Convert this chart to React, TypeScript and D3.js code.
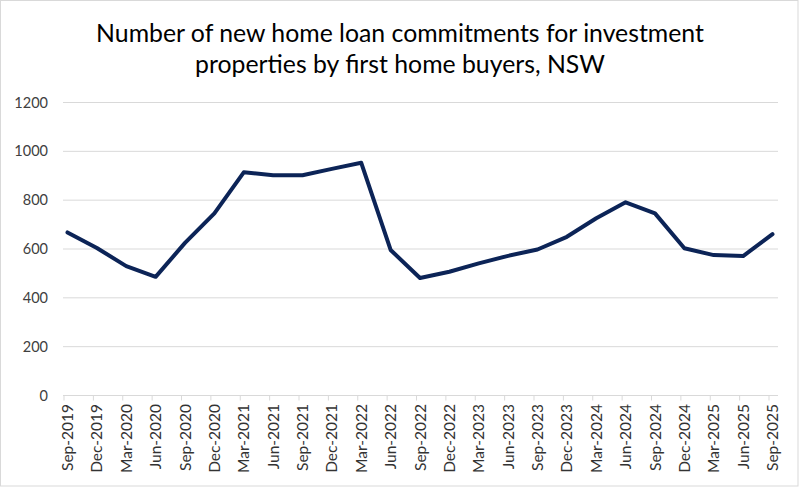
import { useEffect, useRef } from 'react';
import * as d3 from 'd3';

const quarters = [
  'Sep-2019', 'Dec-2019', 'Mar-2020', 'Jun-2020', 'Sep-2020', 'Dec-2020',
  'Mar-2021', 'Jun-2021', 'Sep-2021', 'Dec-2021', 'Mar-2022', 'Jun-2022',
  'Sep-2022', 'Dec-2022', 'Mar-2023', 'Jun-2023', 'Sep-2023', 'Dec-2023',
  'Mar-2024', 'Jun-2024', 'Sep-2024', 'Dec-2024', 'Mar-2025', 'Jun-2025',
  'Sep-2025'
];

const commitments = [
  668, 604, 530, 486, 625, 746,
  914, 902, 902, 928, 953, 596,
  481, 507, 541, 572, 598, 650,
  726, 791, 746, 603, 575, 571,
  661
];

const yTicks = [0, 200, 400, 600, 800, 1000, 1200];

const titleLines = [
  'Number of new home loan commitments for investment',
  'properties by first home buyers, NSW'
];

export default function App() {
  const svgRef = useRef<SVGSVGElement | null>(null);

  useEffect(() => {
    if (!svgRef.current) return;
    const svg = d3.select(svgRef.current);
    svg.selectAll('*').remove();

    const width = 800;
    const height = 487;
    const font = 'Lato, "Open Sans", sans-serif';
    const plot = { left: 63, right: 778, top: 102.5, bottom: 395.5 };

    // chart area border
    svg.append('rect')
      .attr('x', 0.5).attr('y', 0.5)
      .attr('width', width - 2.5).attr('height', height - 1.5)
      .attr('fill', '#fff')
      .attr('stroke', '#d9d9d9');

    const x = d3.scalePoint<string>()
      .domain(quarters)
      .range([67.5, 772.5]);

    const y = d3.scaleLinear()
      .domain([0, 1200])
      .range([plot.bottom, plot.top]);

    // gridlines
    svg.append('g')
      .selectAll('line')
      .data(yTicks.slice(1))
      .join('line')
      .attr('x1', plot.left).attr('x2', plot.right)
      .attr('y1', (d) => y(d)).attr('y2', (d) => y(d))
      .attr('stroke', '#d9d9d9')
      .attr('stroke-width', 1);

    // y labels
    svg.append('g')
      .selectAll('text')
      .data(yTicks)
      .join('text')
      .attr('x', 48)
      .attr('y', (d) => y(d) + 5)
      .attr('text-anchor', 'end')
      .attr('font-family', font)
      .attr('font-size', '14.5px')
      .attr('fill', '#404040')
      .text((d) => d);

    // x axis line + ticks (ticks sit a little left of the points in the original)
    const xAxisG = svg.append('g');
    xAxisG.append('line')
      .attr('x1', plot.left).attr('x2', plot.right)
      .attr('y1', plot.bottom).attr('y2', plot.bottom)
      .attr('stroke', '#d9d9d9');
    xAxisG.selectAll('line.tick')
      .data(quarters)
      .join('line')
      .classed('tick', true)
      .attr('x1', (d) => (x(d) ?? 0) - 3.5).attr('x2', (d) => (x(d) ?? 0) - 3.5)
      .attr('y1', plot.bottom).attr('y2', plot.bottom + 5)
      .attr('stroke', '#d9d9d9');

    xAxisG.selectAll('text')
      .data(quarters)
      .join('text')
      .attr('transform', (d) => `translate(${(x(d) ?? 0) + 5.5},404) rotate(-90)`)
      .attr('text-anchor', 'end')
      .attr('font-family', font)
      .attr('font-size', '15.5px')
      .attr('fill', '#333')
      .text((d) => d);

    // line
    const line = d3.line<number>()
      .x((_, i) => x(quarters[i]) ?? 0)
      .y((d) => y(d));

    svg.append('path')
      .datum(commitments)
      .attr('d', line)
      .attr('fill', 'none')
      .attr('stroke', '#0c2457')
      .attr('stroke-width', 4)
      .attr('stroke-linejoin', 'round')
      .attr('stroke-linecap', 'round');

    // title
    svg.append('g')
      .selectAll('text')
      .data(titleLines)
      .join('text')
      .attr('x', 400)
      .attr('y', (_, i) => 42 + i * 31)
      .attr('text-anchor', 'middle')
      .attr('font-family', font)
      .attr('font-size', '24.8px')
      .attr('fill', '#000')
      .text((d) => d);
  }, []);

  return (
    <div style={{ position: 'absolute', left: 0, top: 0 }}>
      <svg ref={svgRef} width={800} height={487} style={{ display: 'block' }}></svg>
    </div>
  );
}
